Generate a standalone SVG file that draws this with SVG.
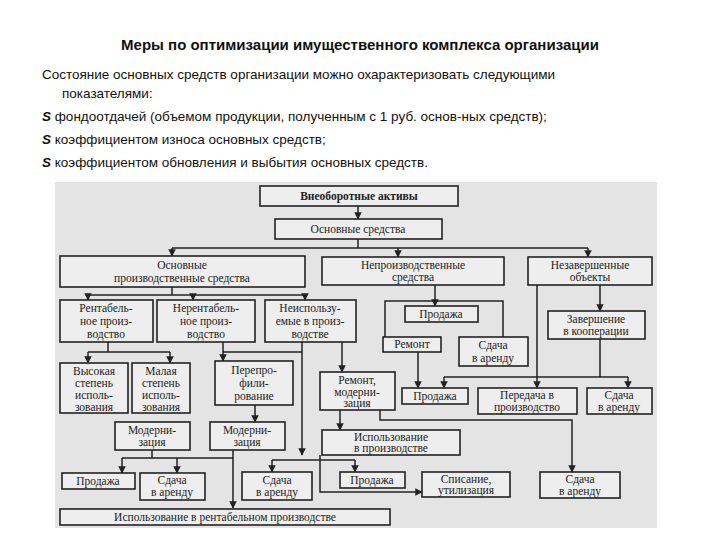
<svg xmlns="http://www.w3.org/2000/svg" width="720" height="540" viewBox="0 0 720 540">
<style>
.h{font-family:"Liberation Sans",Arial,sans-serif;fill:#111}
.b rect{fill:#eeeeee;stroke:#222;stroke-width:1.6}
.b text{font-family:"Liberation Serif","Times New Roman",serif;font-size:11.5px;fill:#222;text-anchor:middle}
.c path{fill:none;stroke:#222;stroke-width:1.5}
</style>
<defs><marker id="a" viewBox="0 0 10 10" refX="9" refY="5" markerWidth="5" markerHeight="5" orient="auto"><path d="M0,0L10,5L0,10z" fill="#222"/></marker></defs>
<rect width="720" height="540" fill="#fff"/>
<text class="h" x="360" y="50" font-size="15" font-weight="bold" text-anchor="middle">Меры по оптимизации имущественного комплекса организации</text>
<g class="h" font-size="13.5">
<text x="42" y="79">Состояние основных средств организации можно охарактеризовать следующими</text>
<text x="62" y="98">показателями:</text>
<text x="42" y="121"><tspan font-weight="bold" font-style="italic">S</tspan> фондоотдачей (объемом продукции, полученным с 1 руб. основ-ных средств);</text>
<text x="42" y="144"><tspan font-weight="bold" font-style="italic">S</tspan> коэффициентом износа основных средств;</text>
<text x="42" y="167"><tspan font-weight="bold" font-style="italic">S</tspan> коэффициентом обновления и выбытия основных средств.</text>
</g>
<rect x="55" y="182" width="602" height="346" fill="#e4e4e4"/>
<g class="c">
<path d="M358,206V219" marker-end="url(#a)"/>
<path d="M358,239V248M172,248H588"/>
<path d="M172,248V256" marker-end="url(#a)"/>
<path d="M398,248V257" marker-end="url(#a)"/>
<path d="M588,248V257" marker-end="url(#a)"/>
<path d="M172,287V295M88,295H305"/>
<path d="M88,295V300" marker-end="url(#a)"/>
<path d="M193,295V300" marker-end="url(#a)"/>
<path d="M305,295V300" marker-end="url(#a)"/>
<path d="M435,285V306" marker-end="url(#a)"/>
<path d="M385,337V301H503V337"/>
<path d="M600,285V311" marker-end="url(#a)"/>
<path d="M108,342V352M88,352H170"/>
<path d="M88,352V363" marker-end="url(#a)"/>
<path d="M170,352V363" marker-end="url(#a)"/>
<path d="M223,342V361" marker-end="url(#a)"/>
<path d="M223,352H302"/>
<path d="M302,342V455" marker-end="url(#a)"/>
<path d="M342,342V372" marker-end="url(#a)"/>
<path d="M255,405V422" marker-end="url(#a)"/>
<path d="M233,450V508" marker-end="url(#a)"/>
<path d="M152,450V458M122,458H233"/>
<path d="M122,458V473" marker-end="url(#a)"/>
<path d="M177,458V473" marker-end="url(#a)"/>
<path d="M272,460H355"/>
<path d="M272,460V472" marker-end="url(#a)"/>
<path d="M355,460V472" marker-end="url(#a)"/>
<path d="M418,352V388" marker-end="url(#a)"/>
<path d="M537,285V388" marker-end="url(#a)"/>
<path d="M600,339V377M444,377H628"/>
<path d="M444,377V388" marker-end="url(#a)"/>
<path d="M628,377V388" marker-end="url(#a)"/>
<path d="M340,410V430" marker-end="url(#a)"/>
<path d="M380,410V420H572V472" marker-end="url(#a)"/>
<path d="M320,455V492H422" marker-end="url(#a)"/>
</g>
<g class="b">
<g id="n1"><rect x="260" y="186" width="198" height="20"/><text x="359" y="200" font-weight="bold">Внеоборотные активы</text></g>
<g id="n2"><rect x="275" y="219" width="167" height="20"/><text x="358" y="233">Основные средства</text></g>
<g id="n3"><rect x="60" y="256" width="245" height="31"/><text x="182" y="269">Основные</text><text x="182" y="282">производственные средства</text></g>
<g id="n4"><rect x="322" y="257" width="182" height="28"/><text x="413" y="269">Непроизводственные</text><text x="413" y="281">средства</text></g>
<g id="n5"><rect x="528" y="257" width="124" height="28"/><text x="590" y="269">Незавершенные</text><text x="590" y="281">объекты</text></g>
<g id="n6"><rect x="60" y="300" width="93" height="42"/><text x="106" y="312">Рентабель-</text><text x="106" y="325">ное произ-</text><text x="106" y="338">водство</text></g>
<g id="n7"><rect x="157" y="300" width="98" height="42"/><text x="206" y="312">Нерентабель-</text><text x="206" y="325">ное произ-</text><text x="206" y="338">водство</text></g>
<g id="n8"><rect x="265" y="300" width="91" height="42"/><text x="310" y="312">Неиспользу-</text><text x="310" y="325">емые в произ-</text><text x="310" y="338">водстве</text></g>
<g id="n9"><rect x="405" y="306" width="73" height="16"/><text x="441" y="318">Продажа</text></g>
<g id="n10"><rect x="383" y="337" width="58" height="15"/><text x="412" y="348">Ремонт</text></g>
<g id="n11"><rect x="459" y="337" width="69" height="29"/><text x="493" y="349">Сдача</text><text x="493" y="362">в аренду</text></g>
<g id="n12"><rect x="548" y="311" width="97" height="28"/><text x="596" y="323">Завершение</text><text x="596" y="335">в кооперации</text></g>
<g id="n13"><rect x="60" y="363" width="68" height="50"/><text x="94" y="375">Высокая</text><text x="94" y="387">степень</text><text x="94" y="399">исполь-</text><text x="94" y="411">зования</text></g>
<g id="n14"><rect x="132" y="363" width="58" height="50"/><text x="161" y="375">Малая</text><text x="161" y="387">степень</text><text x="161" y="399">исполь-</text><text x="161" y="411">зования</text></g>
<g id="n15"><rect x="215" y="361" width="78" height="44"/><text x="254" y="374">Перепро-</text><text x="254" y="387">фили-</text><text x="254" y="400">рование</text></g>
<g id="n16"><rect x="320" y="372" width="75" height="38"/><text x="357" y="384">Ремонт,</text><text x="357" y="396">модерни-</text><text x="357" y="407">зация</text></g>
<g id="n17"><rect x="402" y="388" width="66" height="16"/><text x="435" y="400">Продажа</text></g>
<g id="n18"><rect x="478" y="388" width="99" height="26"/><text x="527" y="399">Передача в</text><text x="527" y="411">производство</text></g>
<g id="n19"><rect x="587" y="388" width="65" height="26"/><text x="619" y="399">Сдача</text><text x="619" y="411">в аренду</text></g>
<g id="n20"><rect x="115" y="422" width="75" height="28"/><text x="152" y="434">Модерни-</text><text x="152" y="446">зация</text></g>
<g id="n21"><rect x="210" y="422" width="75" height="28"/><text x="247" y="434">Модерни-</text><text x="247" y="446">зация</text></g>
<g id="n22"><rect x="322" y="430" width="138" height="25"/><text x="391" y="441">Использование</text><text x="391" y="452">в производстве</text></g>
<g id="n23"><rect x="62" y="473" width="73" height="16"/><text x="98" y="485">Продажа</text></g>
<g id="n24"><rect x="140" y="473" width="65" height="27"/><text x="172" y="484">Сдача</text><text x="172" y="496">в аренду</text></g>
<g id="n25"><rect x="242" y="472" width="70" height="28"/><text x="277" y="484">Сдача</text><text x="277" y="496">в аренду</text></g>
<g id="n26"><rect x="340" y="472" width="65" height="16"/><text x="372" y="484">Продажа</text></g>
<g id="n27"><rect x="422" y="472" width="88" height="25"/><text x="466" y="483">Списание,</text><text x="466" y="494">утилизация</text></g>
<g id="n28"><rect x="540" y="472" width="80" height="26"/><text x="580" y="483">Сдача</text><text x="580" y="495">в аренду</text></g>
<g id="n29"><rect x="60" y="509" width="330" height="16"/><text x="225" y="521">Использование в рентабельном производстве</text></g>
</g>
</svg>
